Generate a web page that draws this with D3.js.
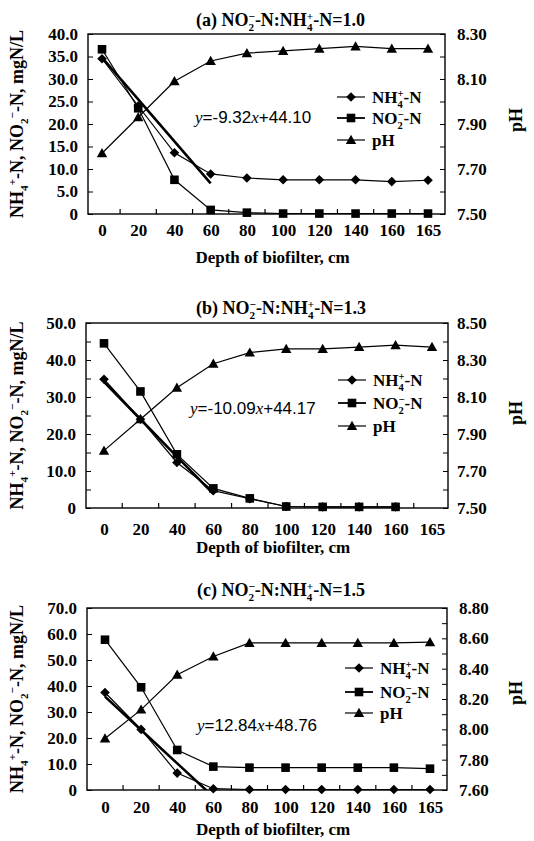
<!DOCTYPE html>
<html><head><meta charset="utf-8">
<script src="https://cdnjs.cloudflare.com/ajax/libs/d3/7.8.5/d3.min.js"></script>
<style>body{margin:0;background:#fff}</style>
</head><body><svg id="c" width="534" height="841"></svg>
<script>
// ---------- DATA ----------
const depths = ["0","20","40","60","80","100","120","140","160","165"];

const aNH4 = [34.5, 24.0, 13.6, 8.9, 8.0, 7.6, 7.6, 7.6, 7.2, 7.5];
const aNO2 = [36.6, 23.5, 7.6, 0.9, 0.3, 0.1, 0.1, 0.1, 0.1, 0.1];
const aPH  = [7.77, 7.93, 8.09, 8.18, 8.215, 8.225, 8.235, 8.245, 8.235, 8.235];

const bNH4 = [34.8, 24.0, 12.3, 4.7, 2.5, 0.4, 0.3, 0.3, 0.3, null];
const bNO2 = [44.5, 31.5, 14.5, 5.3, 2.6, 0.4, 0.3, 0.3, 0.3, null];
const bPH  = [7.81, 7.98, 8.15, 8.28, 8.34, 8.36, 8.36, 8.37, 8.38, 8.37];

const cNH4 = [37.5, 23.3, 6.5, 0.5, 0.2, 0.2, 0.2, 0.2, 0.2, 0.2];
const cNO2 = [57.8, 39.5, 15.4, 9.0, 8.6, 8.6, 8.6, 8.6, 8.6, 8.2];
const cPH  = [7.94, 8.13, 8.36, 8.48, 8.57, 8.57, 8.57, 8.57, 8.57, 8.575];

const panelLetters = ["(a)", "(b)", "(c)"];
const ratios = ["1.0", "1.3", "1.5"];
const fitSlopes = [-9.32, -10.09, -12.84];
const fitIntercepts = [44.10, 44.17, 48.76];
const fitSlopeText = ["-9.32", "-10.09", "12.84"];
const fitInterceptText = ["44.10", "44.17", "48.76"];
const fitIndex = [1, 2, 3, 4];           // x of regression = category index (0..60 cm)

const leftMax = [40, 50, 70];
const leftLabelStep = [5, 10, 10];
const leftTickStep = [5, 5, 10];
const rightDomain = [[7.5, 8.3], [7.5, 8.5], [7.6, 8.8]];
const rightLabelStep = 0.2, rightTickStep = 0.1;

const xTitle = "Depth of biofilter, cm";

// ---------- LAYOUT ----------
const layout = [
  {top:34, bottom:214, left:88, right:445, p0:102, p1:428, titleY:26, tickPad:10, xtitleY:263, legX:337, legY:[97,118,140], eqX:195, eqY:123, phY:120},
  {top:323, bottom:508, left:86, right:448, p0:104, p1:432, titleY:314, tickPad:15, xtitleY:553, legX:338, legY:[380,403,426], eqX:190, eqY:414, phY:413},
  {top:608, bottom:790, left:87, right:447, p0:105, p1:430, titleY:596, tickPad:11, xtitleY:835, legX:345, legY:[668,692,713], eqX:197, eqY:731, phY:693}
];
const series = [[aNH4, aNO2, aPH], [bNH4, bNO2, bPH], [cNH4, cNO2, cPH]];

const SERIF = "'Liberation Serif','Times New Roman',serif";
const SANS = "'Liberation Sans',Arial,sans-serif";
const svg = d3.select("#c");

function addChem(text, segs, fs){
  let pend = 0;
  const small = fs*0.62;
  segs.forEach(s=>{
    if(typeof s === "string"){
      const t = text.append("tspan").text(s);
      if(pend){ t.attr("dy", pend); pend = 0; }
    } else if(s.stack){
      text.append("tspan").attr("dy", pend + fs*0.3).attr("font-size", small).text(s.sub);
      text.append("tspan").attr("dx", -small*0.5).attr("dy", -fs*0.65).attr("font-size", small).text(s.sup);
      pend = fs*0.35;
    } else if(s.sub){
      text.append("tspan").attr("dy", pend + fs*0.3).attr("font-size", small).text(s.sub);
      pend = -fs*0.3;
    } else if(s.sup){
      text.append("tspan").attr("dy", pend - fs*0.4).attr("font-size", small).text(s.sup);
      pend = fs*0.4;
    }
  });
}

function markerPath(type){
  if(type===0) return "M0,-4.8L4.8,0L0,4.8L-4.8,0Z";
  if(type===1) return "M-4.3,-4.3H4.3V4.3H-4.3Z";
  return "M0,-5.2L5.2,4H-5.2Z";
}

layout.forEach((L, pi)=>{
  const g = svg.append("g");
  const x = d3.scalePoint().domain(depths).range([L.p0, L.p1]);
  const yL = d3.scaleLinear().domain([0, leftMax[pi]]).range([L.bottom, L.top]);
  const yR = d3.scaleLinear().domain(rightDomain[pi]).range([L.bottom, L.top]);

  const cid = "clip"+pi;
  svg.append("clipPath").attr("id", cid).append("rect")
    .attr("x", L.left).attr("y", L.top).attr("width", L.right-L.left).attr("height", L.bottom-L.top);

  // left axis
  const lt = d3.range(0, leftMax[pi]+0.001, leftTickStep[pi]);
  const ll = d3.range(0, leftMax[pi]+0.001, leftLabelStep[pi]);
  g.append("g").attr("transform", `translate(${L.left},0)`)
    .call(d3.axisLeft(yL).tickValues(lt).tickSize(-5).tickSizeOuter(0).tickFormat(""))
    .call(a=>a.select(".domain").remove());
  g.append("g").attr("transform", `translate(${L.left},0)`)
    .call(d3.axisLeft(yL).tickValues(ll).tickSize(0).tickPadding(10).tickFormat(v=> v===0 ? "0" : d3.format(".1f")(v)))
    .call(a=>a.select(".domain").remove())
    .selectAll("text").attr("font-family", SERIF).attr("font-weight","bold").attr("font-size",17).attr("fill","#000");

  // right axis
  const rd = rightDomain[pi];
  const rt = d3.range(rd[0], rd[1]+0.0001, rightTickStep);
  const rl = d3.range(rd[0], rd[1]+0.0001, rightLabelStep);
  g.append("g").attr("transform", `translate(${L.right},0)`)
    .call(d3.axisRight(yR).tickValues(rt).tickSize(-5).tickSizeOuter(0).tickFormat(""))
    .call(a=>a.select(".domain").remove());
  g.append("g").attr("transform", `translate(${L.right},0)`)
    .call(d3.axisRight(yR).tickValues(rl).tickSize(0).tickPadding(pi===1?9:12).tickFormat(d3.format(".2f")))
    .call(a=>a.select(".domain").remove())
    .selectAll("text").attr("font-family", SERIF).attr("font-weight","bold").attr("font-size",17).attr("fill","#000");

  // bottom axis labels
  g.append("g").attr("transform", `translate(0,${L.bottom})`)
    .call(d3.axisBottom(x).tickSize(0).tickPadding(L.tickPad))
    .call(a=>a.select(".domain").remove())
    .selectAll("text").attr("font-family", SERIF).attr("font-weight","bold").attr("font-size",17).attr("fill","#000");
  const mids = d3.range(depths.length-1).map(i=> (x(depths[i])+x(depths[i+1]))/2);
  g.append("g").selectAll("line").data(mids).join("line")
    .attr("x1", d=>d).attr("x2", d=>d).attr("y1", L.bottom).attr("y2", L.bottom-5)
    .attr("stroke","#000").attr("stroke-width",1.2);

  // frame
  g.append("rect").attr("x", L.left).attr("y", L.top).attr("width", L.right-L.left).attr("height", L.bottom-L.top)
    .attr("fill","none").attr("stroke","#000").attr("stroke-width",1.4);

  const plot = g.append("g").attr("clip-path", `url(#${cid})`);
  const data = series[pi];
  const scales = [yL, yL, yR];
  const fit = fitIndex.map(i=>({i, v: fitSlopes[pi]*i + fitIntercepts[pi]}));
  plot.append("path").datum(fit)
    .attr("d", d3.line().x(d=>x(depths[d.i-1])).y(d=>yL(d.v)))
    .attr("fill","none").attr("stroke","#000").attr("stroke-width",2.6);

  data.forEach((arr, si)=>{
    const pts = arr.map((v,i)=>({d:depths[i], v})).filter(p=>p.v!==null);
    const ys = scales[si];
    plot.append("path").datum(pts)
      .attr("d", d3.line().x(p=>x(p.d)).y(p=>ys(p.v)))
      .attr("fill","none").attr("stroke","#000").attr("stroke-width",1.2);
  });
  data.forEach((arr, si)=>{
    const pts = arr.map((v,i)=>({d:depths[i], v})).filter(p=>p.v!==null);
    const ys = scales[si];
    g.append("g").selectAll("path").data(pts).join("path")
      .attr("transform", p=>`translate(${x(p.d)},${ys(p.v)})`)
      .attr("d", markerPath(si)).attr("fill","#000");
  });

  // title
  const t = g.append("text").attr("x", (L.left+L.right)/2 + 14).attr("y", L.titleY)
    .attr("text-anchor","middle").attr("font-family", SERIF).attr("font-weight","bold").attr("font-size",18);
  addChem(t, [panelLetters[pi]+" NO", {stack:true, sub:"2", sup:"\u2212"}, "-N:NH", {stack:true, sub:"4", sup:"+"}, "-N=" + ratios[pi]], 18);

  // x title
  g.append("text").attr("x", (L.left+L.right)/2 + 6).attr("y", L.xtitleY).attr("text-anchor","middle")
    .attr("font-family", SERIF).attr("font-weight","bold").attr("font-size",17).text(xTitle);

  // left y title
  const yt = g.append("text").attr("transform", `translate(23,${(L.top+L.bottom)/2}) rotate(-90)`)
    .attr("text-anchor","middle").attr("font-family", SERIF).attr("font-weight","bold").attr("font-size",18);
  addChem(yt, ["NH", {sub:"4"}, {sup:"+"}, "-N, NO", {sub:"2"}, {sup:"\u2212"}, "-N, mgN/L"], 18);

  // right y title
  g.append("text").attr("transform", `translate(522,${L.phY}) rotate(-90)`)
    .attr("text-anchor","middle").attr("font-family", SERIF).attr("font-weight","bold").attr("font-size",18).text("pH");

  // equation
  const eq = g.append("text").attr("x", L.eqX).attr("y", L.eqY).attr("font-size",17).attr("font-family", SANS);
  eq.append("tspan").attr("font-family", SERIF).attr("font-style","italic").text("y");
  eq.append("tspan").text("=" + fitSlopeText[pi]);
  eq.append("tspan").attr("font-family", SERIF).attr("font-style","italic").text("x");
  eq.append("tspan").text("+" + fitInterceptText[pi]);

  // legend
  const legLabels = [
    ["NH", {stack:true, sub:"4", sup:"+"}, "-N"],
    ["NO", {stack:true, sub:"2", sup:"\u2212"}, "-N"],
    ["pH"]
  ];
  legLabels.forEach((lab, k)=>{
    const ly = L.legY[k];
    g.append("line").attr("x1", L.legX).attr("x2", L.legX+28).attr("y1", ly).attr("y2", ly)
      .attr("stroke","#000").attr("stroke-width", k===1?1.8:1.2);
    g.append("path").attr("transform", `translate(${L.legX+14},${ly})`).attr("d", markerPath(k)).attr("fill","#000");
    const lt2 = g.append("text").attr("x", L.legX+35).attr("y", ly+6)
      .attr("font-family", SERIF).attr("font-size",17).attr("font-weight","bold");
    addChem(lt2, lab, 17);
  });
});
</script>
</body></html>
